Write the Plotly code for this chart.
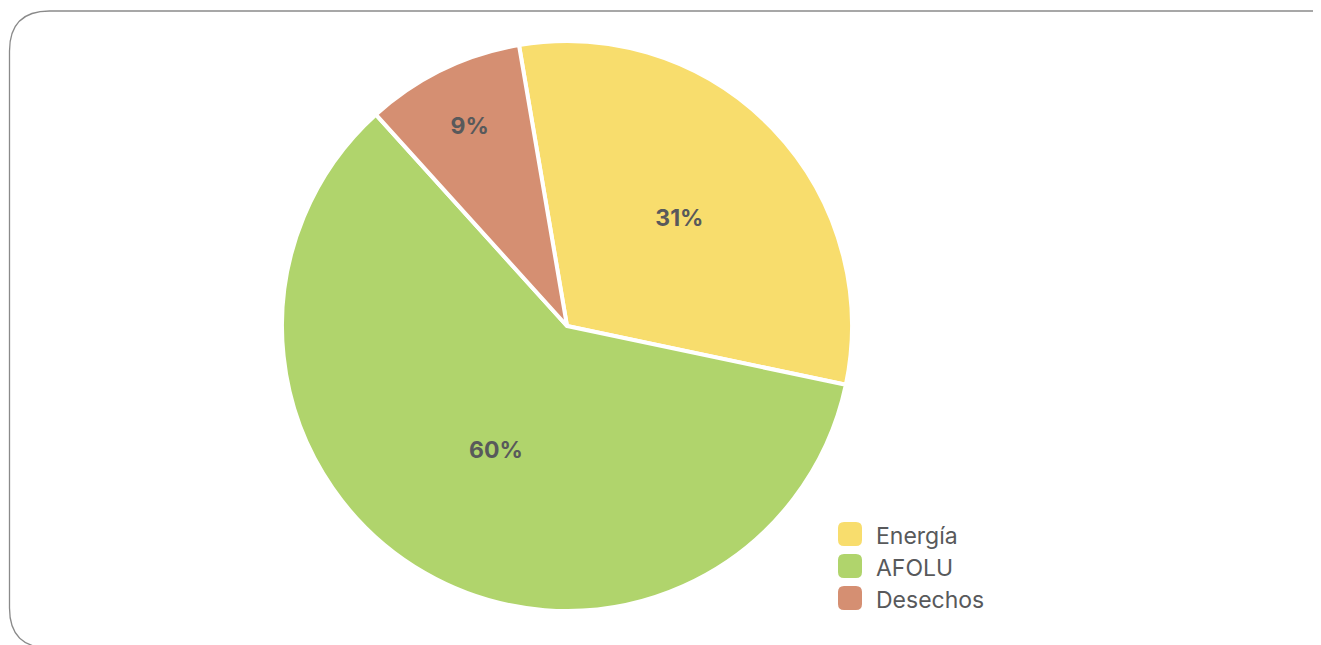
import plotly.graph_objects as go

labels = ["Energía", "AFOLU", "Desechos"]
values = [31, 60, 9]
colors = ["#F8DD6D", "#B0D46C", "#D58F72"]

W, H = 1321, 645
OFF = 8  # page body margin of the rendered html
cx, cy, R = 567 - OFF, 326 - OFF, 285

fig = go.Figure()
fig.add_trace(go.Pie(
    labels=labels, values=values, sort=False, direction="clockwise",
    rotation=-9.7,
    marker=dict(colors=colors, line=dict(color="white", width=4)),
    texttemplate="%{percent:.0%}",
    textposition="inside", insidetextorientation="horizontal",
    textfont=dict(family="Inter", size=23, color="#58595B", weight="bold"),
    showlegend=False, hoverinfo="label+percent",
    domain=dict(x=[(cx - R) / W, (cx + R) / W], y=[1 - (cy + R) / H, 1 - (cy - R) / H]),
))

def px(x): return (x - OFF) / W
def py(y): return 1 - (y - OFF) / H

# rounded border
x0, y0, x1, y1, r = 9.5, 11, 1400, 648, 40
path = (f"M {px(x0+r)},{py(y0)} L {px(x1-r)},{py(y0)} Q {px(x1)},{py(y0)} {px(x1)},{py(y0+r)} "
        f"L {px(x1)},{py(y1-r)} Q {px(x1)},{py(y1)} {px(x1-r)},{py(y1)} "
        f"L {px(x0+r)},{py(y1)} Q {px(x0)},{py(y1)} {px(x0)},{py(y1-r)} "
        f"L {px(x0)},{py(y0+r)} Q {px(x0)},{py(y0)} {px(x0+r)},{py(y0)} Z")
shapes = [dict(type="path", xref="paper", yref="paper", path=path,
               line=dict(color="#8A8A8A", width=1.3), fillcolor="rgba(0,0,0,0)", layer="below")]

# custom legend with rounded markers
lx, ly, step, s, rr = 838, 534, 32, 24, 6
annotations = []
for i, (lab, col) in enumerate(zip(labels, colors)):
    yc = ly + i * step
    a, b, c, d = lx, yc - s / 2, lx + s, yc + s / 2
    p = (f"M {px(a+rr)},{py(b)} L {px(c-rr)},{py(b)} Q {px(c)},{py(b)} {px(c)},{py(b+rr)} "
         f"L {px(c)},{py(d-rr)} Q {px(c)},{py(d)} {px(c-rr)},{py(d)} "
         f"L {px(a+rr)},{py(d)} Q {px(a)},{py(d)} {px(a)},{py(d-rr)} "
         f"L {px(a)},{py(b+rr)} Q {px(a)},{py(b)} {px(a+rr)},{py(b)} Z")
    shapes.append(dict(type="path", xref="paper", yref="paper", path=p,
                       line=dict(width=0), fillcolor=col))
    annotations.append(dict(x=px(874), y=py(yc + 2), xref="paper", yref="paper", text=lab,
                            showarrow=False, xanchor="left", yanchor="middle",
                            font=dict(family="Inter", size=23, color="#58595B")))

fig.update_layout(
    width=W, height=H, margin=dict(l=0, r=0, t=0, b=0),
    paper_bgcolor="white", plot_bgcolor="white",
    shapes=shapes, annotations=annotations,
)
fig.write_html("out.html")
